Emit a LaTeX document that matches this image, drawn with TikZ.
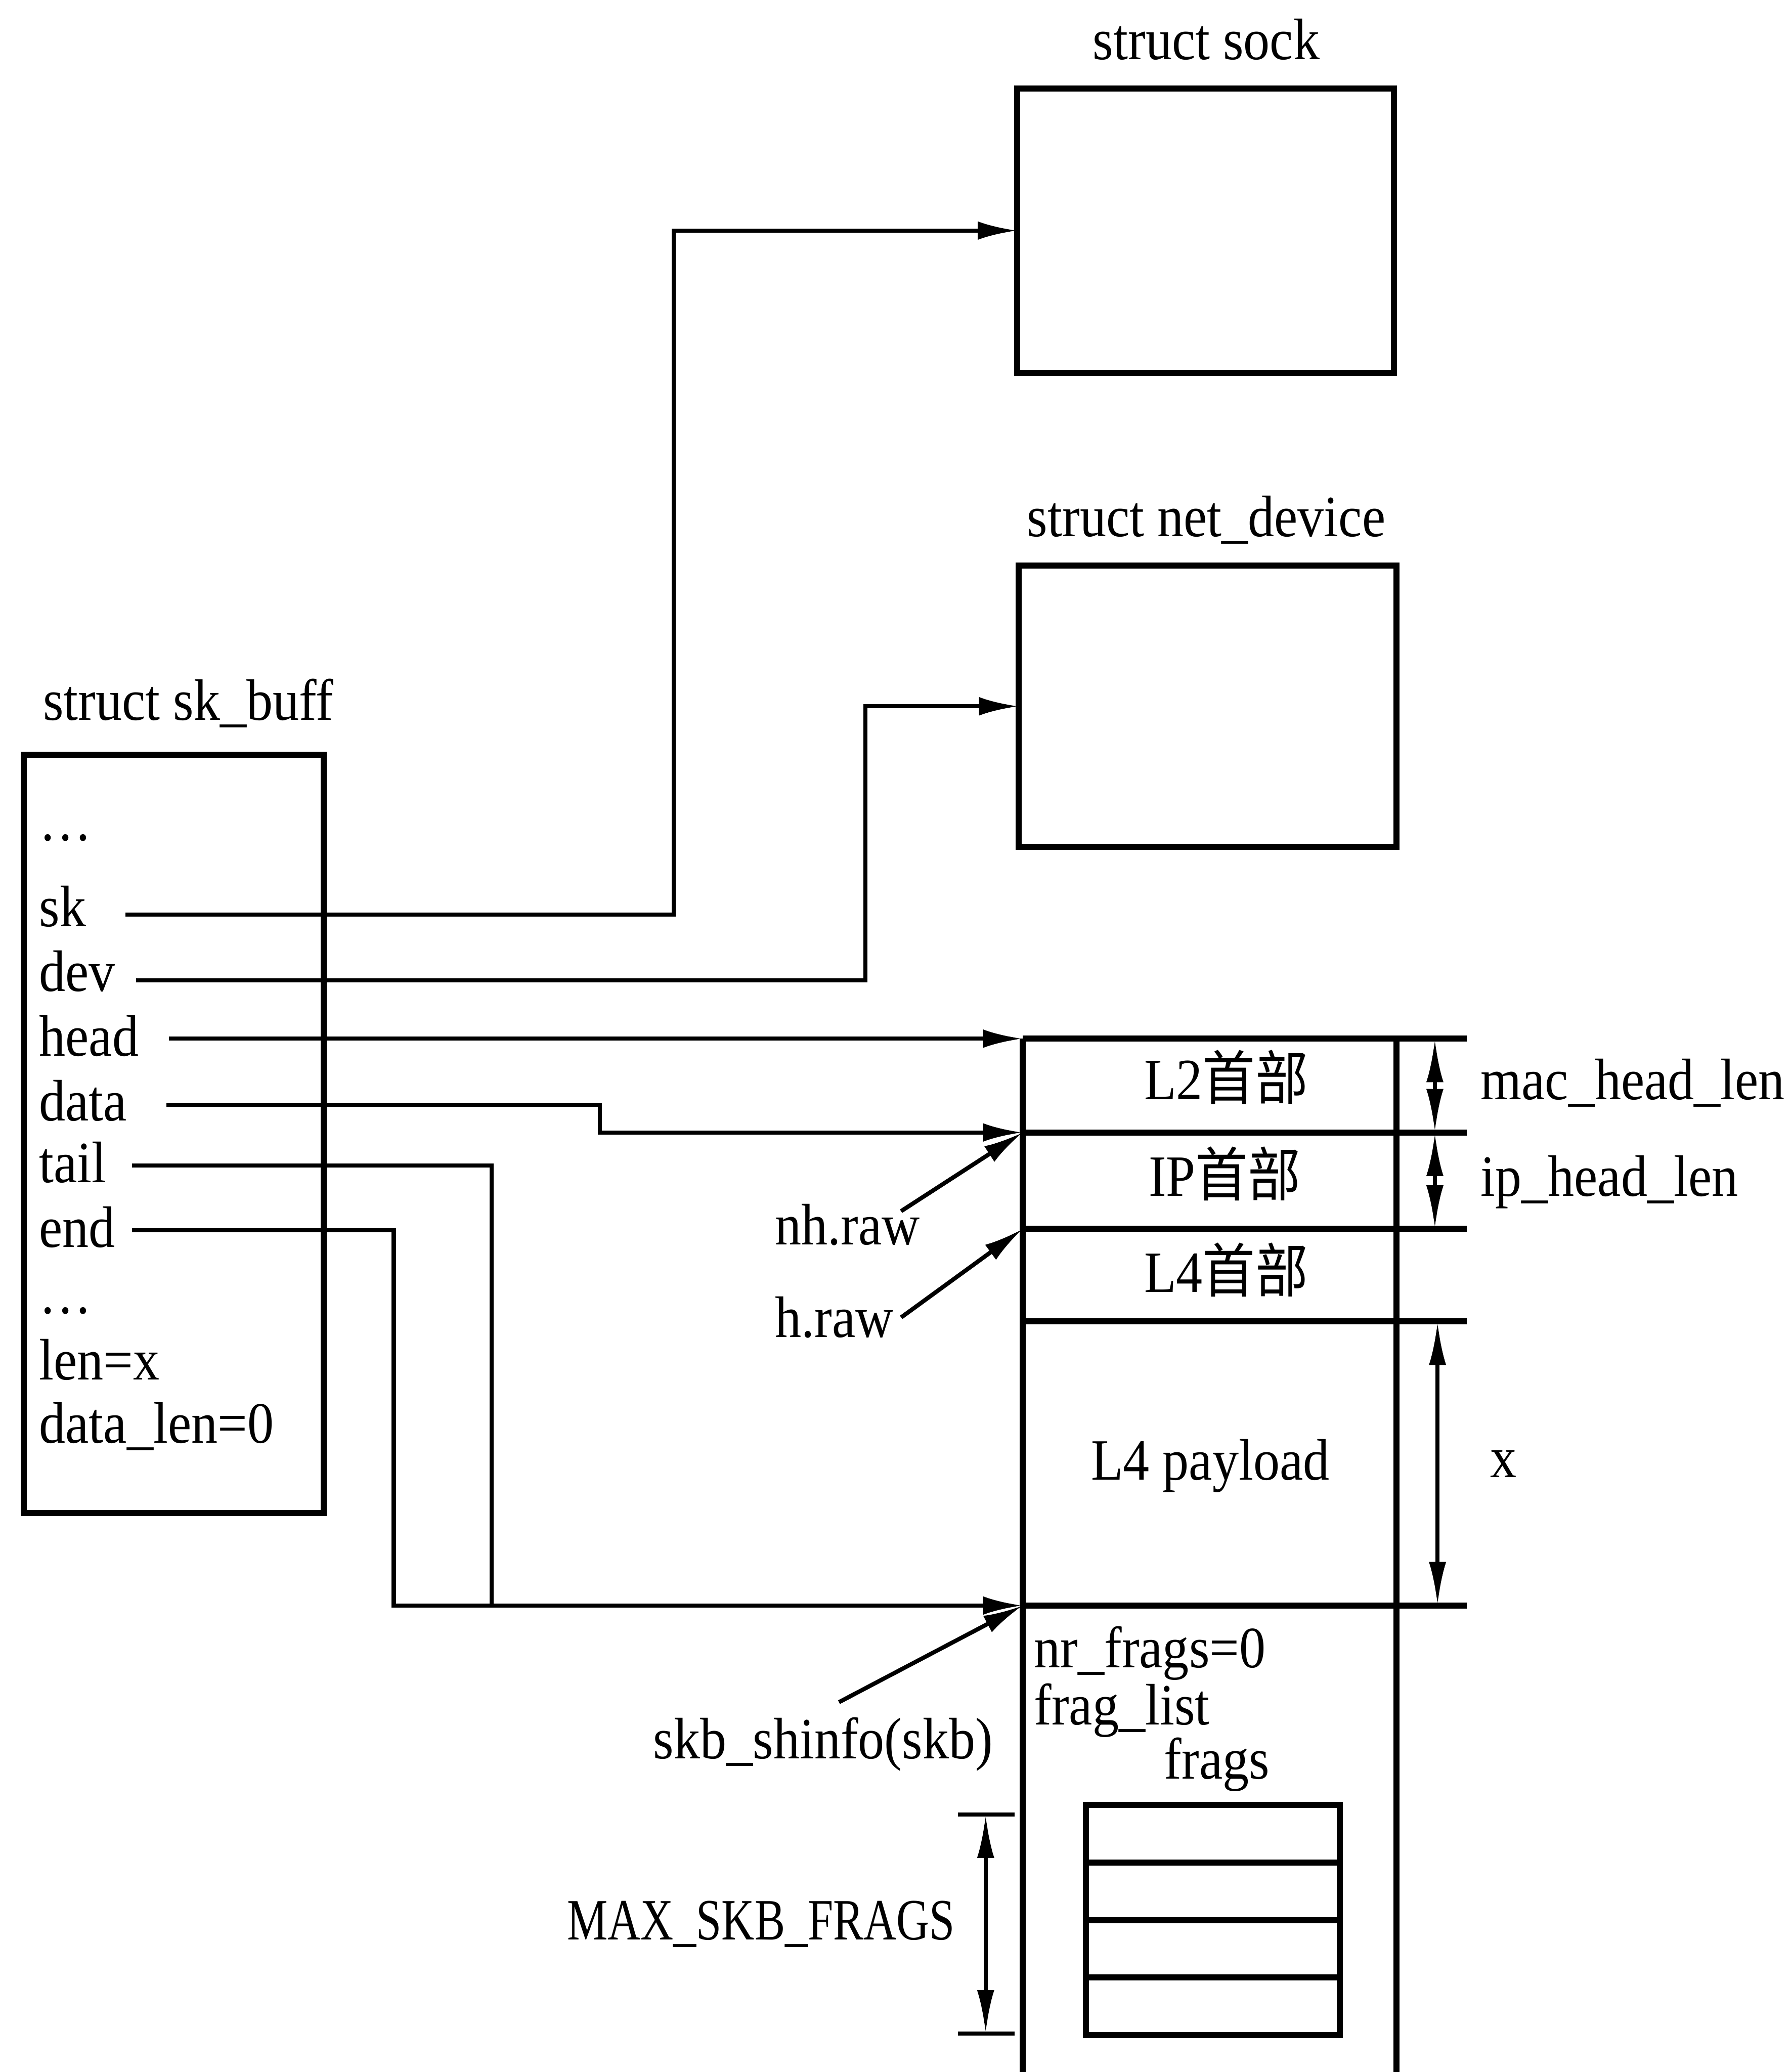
\documentclass[tikz,border=0pt]{standalone}
\usepackage{fontspec}
\setmainfont[FakeStretch=0.9]{Liberation Serif}
\newfontfamily\cjk[FakeStretch=0.9]{Noto Sans CJK SC}
\newfontfamily\capsnarrow[FakeStretch=0.78]{Liberation Serif}
\usetikzlibrary{arrows.meta,positioning,calc}
\tikzset{
 skb box/.style={draw,line width=1.3pt,inner sep=0pt,outer sep=0pt},
 skb wall/.style={line width=1.3pt},
 skb wire/.style={line width=.9pt},
 skb link/.style={line width=.9pt,-{Latex[length=3mm,width=1.4mm]}},
 skb dim/.style={line width=.9pt,
   {Latex[length=3.3mm,width=1.3mm]}-{Latex[length=3.3mm,width=1.3mm]}},
 skb field/.style={anchor=base west,inner sep=0pt},
 skb title/.style={anchor=base,inner sep=0pt}
}

\begin{document}
\begin{tikzpicture}[font=\fontsize{12.6}{15}\selectfont]
 \useasboundingbox (0,0) rectangle (13.56,-15.68);
 % sock and net_device
 \node[skb box,minimum width=2.85cm,minimum height=2.15cm,anchor=north west]
   (sock) at (7.70,-.67) {};
 \node[skb title] (sock title) at (9.13,-.45) {struct sock};
 \node[skb box,minimum width=2.86cm,minimum height=2.13cm,anchor=north west]
   (ndev) at (7.71,-4.28) {};
 \node[skb title] (ndev title) at (9.13,-4.06) {struct net\_device};
 % sk_buff and its fields
 \node[skb box,minimum width=2.27cm,minimum height=5.74cm,anchor=north west]
   (skb) at (.18,-5.71) {};
 \node[skb field] (skb title) at (.32,-5.45) {struct sk\_buff};
 \foreach \n/\t/\y in {dots1/\dots/6.36,sk/sk/7.01,dev/dev/7.50,head/head/7.99,
   data/data/8.48,tail/tail/8.95,end/end/9.44,dots2/\dots/9.94,
   len/len=x/10.44,dlen/data\_len=0/10.92}
   \node[skb field] (f \n) at (.29,-\y) {\t};
 \foreach \n/\x/\y in {sk/.95/6.92,dev/1.03/7.42,head/1.28/7.86,
   data/1.26/8.36,tail/1.00/8.82,end/1.00/9.31}
   \coordinate (\n\space ptr) at (\x,-\y);
 % linear data area
 \foreach \n/\y in {0/7.86,1/8.57,2/9.30,3/10.00,4/12.15}{
   \coordinate (lay\n) at (7.74,-\y);
   \draw[skb wall] (lay\n) -- ++(3.36,0);
 }
 \draw[skb wall] (lay0) -- (7.74,-15.68);
 \draw[skb wall] (10.57,-7.86) -- (10.57,-15.68);
 \node[skb title] (l2) at (9.28,-8.32) {L2{\cjk 首部}};
 \node[skb title] (ip) at (9.27,-9.05) {IP{\cjk 首部}};
 \node[skb title] (l4) at (9.28,-9.78) {L4{\cjk 首部}};
 \node[skb title] (pay) at (9.16,-11.20) {L4 payload};
 \draw[skb dim] ($(lay0)+(3.12,0)$) -- ($(lay1)+(3.12,0)$);
 \draw[skb dim] ($(lay1)+(3.12,0)$) -- ($(lay2)+(3.12,0)$);
 \draw[skb dim] ($(lay3)+(3.14,0)$) -- ($(lay4)+(3.14,0)$);
 \node[skb field] (mac len) at (11.20,-8.32) {mac\_head\_len};
 \node[skb field] (ip len) at (11.20,-9.05) {ip\_head\_len};
 \node[skb title] (x len) at (11.38,-11.18) {x};
 % pointers
 \coordinate (sk bend) at (5.10,-6.92);
 \coordinate (dev bend) at (6.55,-7.42);
 \coordinate (data bend) at (4.54,-8.57);
 \coordinate (tail bend) at (3.72,-12.15);
 \coordinate (end bend) at (2.98,-12.15);
 \draw[skb link] (sk ptr) -- (sk bend) |- (sock.west);
 \draw[skb link] (dev ptr) -- (dev bend) |- (ndev.west);
 \draw[skb link] (head ptr) -- (lay0);
 \draw[skb link] (data ptr) -| (data bend) -- (lay1);
 \draw[skb wire] (tail ptr) -| (tail bend);
 \draw[skb link] (end ptr) -| (end bend) -- (lay4);
 \node[skb field] (nh) at (5.86,-9.42) {nh.raw};
 \node[skb field] (hraw) at (5.86,-10.12) {h.raw};
 \draw[skb link] ($(nh.north east)+(-.15,-.06)$) -- (lay1);
 \draw[skb link] ([xshift=.5mm]hraw.east) -- (lay2);
 % shared info
 \node[skb title] (shinfo) at (6.23,-13.31) {skb\_shinfo(skb)};
 \draw[skb link] ([xshift=1.2mm,yshift=1.1mm]shinfo.north) -- (lay4);
 \node[skb field] (nrf) at (7.82,-12.62) {nr\_frags=0};
 \node[skb field] (fl) at (7.82,-13.05) {frag\_list};
 \node[skb title] (frags t) at (9.21,-13.46) {frags};
 \foreach \i in {0,...,3}
   \node[skb box,minimum width=1.92cm,minimum height=.435cm,anchor=north west]
     (frag\i) at (8.22,{-13.66-.435*\i}) {};
 \coordinate (max top) at (7.46,-13.73);
 \coordinate (max bot) at (7.46,-15.39);
 \draw[skb wire] ($(max top)+(-.21,0)$) -- ($(max top)+(.22,0)$);
 \draw[skb wire] ($(max bot)+(-.21,0)$) -- ($(max bot)+(.22,0)$);
 \draw[skb dim] (max top) -- (max bot);
 \node[skb title] (maxf) at (5.76,-14.68) {\capsnarrow MAX\_SKB\_FRAGS};
\end{tikzpicture}
\end{document}
